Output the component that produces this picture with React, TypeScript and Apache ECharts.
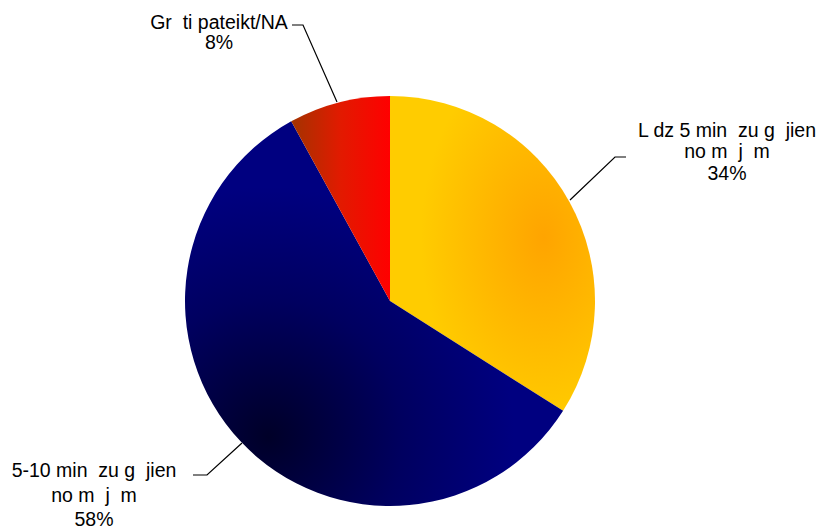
import React, { useEffect, useRef } from "react";
import * as echarts from "echarts";

const categories = ["L dz 5 min  zu g  jien\nno m  j  m", "5-10 min  zu g  jien\nno m  j  m", "Gr  ti pateikt/NA"];
const values = [34, 58, 8];

// label layout (anchor x, top y, line height, line points)
const labelPlaces = [
  { x: 727, y: 119, lh: 21.5, line: [[570, 200], [615, 157], [626, 157]] },
  { x: 94, y: 458, lh: 24.5, line: [[242, 443], [207, 475], [193, 475]] },
  { x: 219, y: 12, lh: 20, line: [[337, 102], [303, 25], [292, 25]] },
];

const sliceColors = [
  new echarts.graphic.RadialGradient(0.75, 0.45, 0.6, [
    { offset: 0, color: "#FFA400" },
    { offset: 1, color: "#FFCC00" },
  ]),
  new echarts.graphic.RadialGradient(0.22, 0.82, 0.65, [
    { offset: 0, color: "#000028" },
    { offset: 0.55, color: "#000060" },
    { offset: 1, color: "#000080" },
  ]),
  new echarts.graphic.LinearGradient(0, 0, 1, 0, [
    { offset: 0, color: "#A33300" },
    { offset: 0.5, color: "#E21A00" },
    { offset: 1, color: "#FF0000" },
  ]),
];

export default function App() {
  const ref = useRef<HTMLDivElement>(null);
  useEffect(() => {
    if (!ref.current) return;
    const chart = echarts.init(ref.current, null, { renderer: "svg" });
    chart.setOption({
      animation: false,
      backgroundColor: "#ffffff",
      series: [
        {
          type: "pie",
          center: [390, 301],
          radius: [0, 205],
          startAngle: 90,
          clockwise: true,
          avoidLabelOverlap: false,
          data: categories.map((name, i) => ({
            name,
            value: values[i],
            itemStyle: { color: sliceColors[i] },
            label: { lineHeight: labelPlaces[i].lh },
          })),
          itemStyle: { borderWidth: 0 },
          label: {
            show: true,
            formatter: (p: any) => `${p.name}\n${p.value}%`,
            fontFamily: "Liberation Sans, Arial, sans-serif",
            fontSize: 19.5,
            color: "#000000",
            align: "center",
          },
          labelLine: {
            show: true,
            lineStyle: { color: "#000000", width: 1.2 },
          },
          labelLayout: (params: any) => {
            const p = labelPlaces[params.dataIndex];
            return {
              x: p.x,
              y: p.y,
              align: "center",
              verticalAlign: "top",
              labelLinePoints: p.line,
            };
          },
        },
      ],
    });
    return () => chart.dispose();
  }, []);
  return (
    <div
      ref={ref}
      style={{ position: "fixed", left: 0, top: 0, width: 822, height: 529 }}
    />
  );
}
